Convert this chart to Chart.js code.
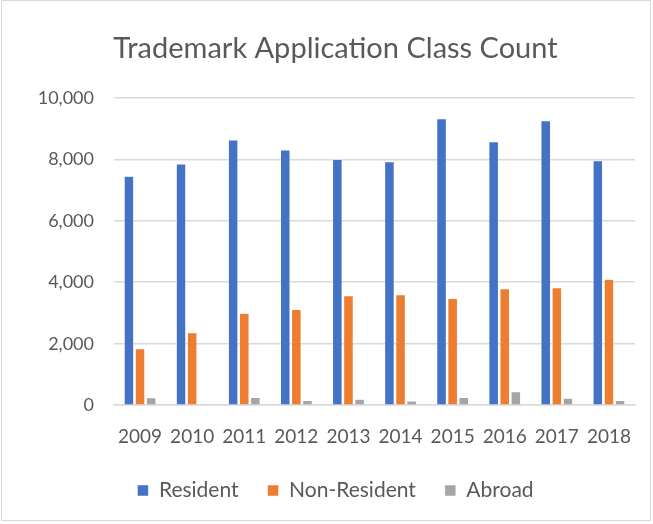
<!DOCTYPE html>
<html>
<head>
<meta charset="utf-8">
<script src="https://cdn.jsdelivr.net/npm/chart.js@4/dist/chart.umd.min.js"></script>
<style>
    html, body { margin: 0; padding: 0; background: #fff; }
    #wrap {
        position: absolute; left: 1px; top: 0;
        width: 650px; height: 521px;
        border: 1px solid #d9d9d9; box-sizing: border-box;
    }
    canvas { display: block; }
</style>
</head>
<body>
<div id="wrap"><canvas id="chart"></canvas></div>
<script>
// Données
const years = ['2009', '2010', '2011', '2012', '2013', '2014', '2015', '2016', '2017', '2018'];
const resident = [7450, 7850, 8630, 8300, 7990, 7920, 9320, 8570, 9250, 7950];
const nonResident = [1840, 2360, 2990, 3110, 3560, 3590, 3470, 3790, 3820, 4100];
const abroad = [240, 10, 250, 150, 190, 140, 250, 440, 230, 150];
const yTicks = [0, 2000, 4000, 6000, 8000, 10000];

const seriesNames = ['Resident', 'Non-Resident', 'Abroad'];
const seriesColors = ['#4472c4', '#ed7d31', '#a5a5a5'];

const fontFamily = 'Lato, "Open Sans", sans-serif';
const textColor = '#595959';

const ctx = document.getElementById('chart');

new Chart(ctx, {
    type: 'bar',
    data: {
        labels: years,
        datasets: [resident, nonResident, abroad].map((values, i) => ({
            label: seriesNames[i],
            data: values,
            backgroundColor: seriesColors[i],
            borderColor: '#ffffff',
            borderWidth: 0.5,
            barPercentage: 0.86,
            categoryPercentage: 0.64
        }))
    },
    options: {
        responsive: true,
        maintainAspectRatio: false,
        animation: false,
        layout: {
            padding: { top: 30, right: 15, bottom: 9, left: 34 }
        },
        plugins: {
            title: {
                display: true,
                text: 'Trademark Application Class Count',
                color: textColor,
                font: { family: fontFamily, size: 29, weight: 'normal' },
                padding: { top: 0, bottom: 32 }
            },
            legend: {
                position: 'bottom',
                labels: {
                    color: textColor,
                    font: { family: fontFamily, size: 21 },
                    boxWidth: 11,
                    boxHeight: 11,
                    padding: 29
                }
            },
            tooltip: { enabled: false }
        },
        scales: {
            x: {
                grid: { display: false },
                border: { color: '#d9d9d9', width: 1.5 },
                afterFit: axis => {
                    axis.height -= 9;
                },
                ticks: {
                    color: textColor,
                    font: { family: fontFamily, size: 19 },
                    maxRotation: 0,
                    autoSkip: false,
                    padding: 12
                }
            },
            y: {
                min: 0,
                max: 10000,
                afterBuildTicks: axis => {
                    axis.ticks = yTicks.map(v => ({ value: v }));
                },
                afterFit: axis => {
                    axis.width = 78;
                },
                grid: { color: '#d9d9d9', lineWidth: 1.5, drawTicks: false },
                border: { display: false },
                ticks: {
                    color: textColor,
                    font: { family: fontFamily, size: 18 },
                    padding: 20,
                    callback: value => value.toLocaleString('en-US')
                }
            }
        }
    }
});
</script>
</body>
</html>
